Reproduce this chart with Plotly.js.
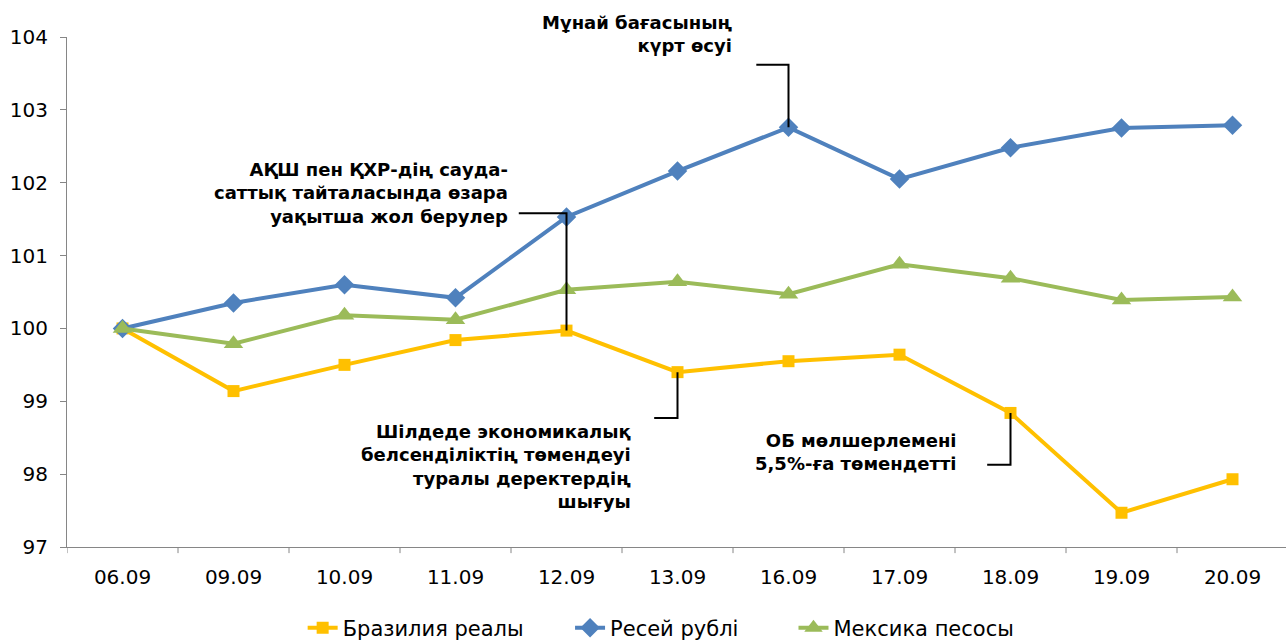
<!DOCTYPE html>
<html>
<head>
<meta charset="utf-8">
<script src="https://cdn.plot.ly/plotly-3.0.1.min.js"></script>
<style>html,body{margin:0;padding:0;overflow:hidden;background:#fff}#chart{width:1290px;height:641px}</style>
</head>
<body>
<div id="chart"></div>
<script>
const categories = ["06.09","09.09","10.09","11.09","12.09","13.09","16.09","17.09","18.09","19.09","20.09"];
const brazil = [100, 99.14, 99.50, 99.84, 99.97, 99.40, 99.55, 99.64, 98.84, 97.47, 97.93];
const russia = [100, 100.35, 100.60, 100.42, 101.53, 102.16, 102.76, 102.05, 102.48, 102.75, 102.79];
const mexico = [100, 99.79, 100.18, 100.12, 100.53, 100.64, 100.47, 100.88, 100.69, 100.39, 100.43];
const seriesNames = ["Бразилия реалы", "Ресей рублі", "Мексика песосы"];
const yTicks = [97, 98, 99, 100, 101, 102, 103, 104];
const notes = [
  "АҚШ пен ҚХР-дің сауда-<br>саттық тайталасында өзара<br>уақытша жол берулер",
  "Мұнай бағасының<br>күрт өсуі",
  "Шілдеде экономикалық<br>белсенділіктің төмендеуі<br>туралы деректердің<br>шығуы",
  "ОБ мөлшерлемені<br>5,5%-ға төмендетті"
];

const F = "'DejaVu Sans', Arial, sans-serif";
const idx = categories.map((c, i) => i);

const traces = [
  {x: idx, y: brazil, name: seriesNames[0], mode: "lines+markers", legend: "legend",
   line: {color: "#FFC000", width: 4}, marker: {symbol: "square", size: 12, color: "#FFC000"}},
  {x: idx, y: russia, name: seriesNames[1], mode: "lines+markers", legend: "legend2",
   line: {color: "#4F81BD", width: 4}, marker: {symbol: "diamond", size: 15, color: "#4F81BD"}},
  {x: idx, y: mexico, name: seriesNames[2], mode: "lines+markers", legend: "legend3",
   line: {color: "#9BBB59", width: 4}, marker: {symbol: "triangle-up", size: 17, color: "#9BBB59"}}
];
traces.forEach(t => t.cliponaxis = false);

function elbow(xi, y0, y1, xh) {
  return {type: "path", xref: "x", yref: "y",
    path: `M ${xi} ${y0} L ${xi} ${y1} L ${xh} ${y1}`,
    line: {color: "#000", width: 2}};
}
function leg(x) {
  return {orientation: "h", x: x, xanchor: "left", yref: "container", y: 0.02, yanchor: "middle",
    font: {family: F, size: 21, color: "#000"}, bgcolor: "rgba(0,0,0,0)"};
}

const layout = {
  width: 1290, height: 641,
  margin: {l: 67, r: 2, t: 37, b: 94},
  paper_bgcolor: "#fff", plot_bgcolor: "#fff",
  showlegend: true,
  legend: leg(0.193), legend2: leg(0.412), legend3: leg(0.595),
  xaxis: {range: [-0.5, 10.5], tickmode: "array", tickvals: idx, ticktext: categories,
    showgrid: false, zeroline: false, showline: true, linecolor: "#868686", linewidth: 1,
    ticks: "", ticklabelstandoff: 12, automargin: false,
    tickfont: {family: F, size: 20, color: "#000"}, fixedrange: true},
  yaxis: {range: [97, 104], tickmode: "array", tickvals: yTicks, showgrid: false, zeroline: false,
    showline: true, linecolor: "#868686", linewidth: 1, ticks: "outside", ticklen: 6,
    ticklabelstandoff: 8, automargin: false,
    tickcolor: "#868686", tickfont: {family: F, size: 20, color: "#000"}, fixedrange: true},
  shapes: [
    elbow(4, brazil[4], 101.58, 3.57),
    elbow(6, russia[6], 103.62, 5.71),
    elbow(5, brazil[5], 98.77, 4.79),
    elbow(8, brazil[8], 98.13, 7.79)
  ].concat(idx.concat([idx.length]).map(i => ({type: "line", xref: "x", yref: "paper",
    x0: i - 0.5, x1: i - 0.5, y0: 0, y1: -0.012, line: {color: "#868686", width: 1}}))),
  annotations: [
    {x: 3.49, xref: "x", y: 101.86, yref: "y", text: notes[0]},
    {x: 5.51, xref: "x", y: 1.005, yref: "paper", text: notes[1]},
    {x: 4.60, xref: "x", y: 98.11, yref: "y", text: notes[2]},
    {x: 7.54, xref: "x", y: 98.30, yref: "y", text: notes[3]}
  ].map(a => Object.assign(a, {xanchor: "right", yanchor: "middle", align: "right", showarrow: false,
    font: {family: F, size: 18, color: "#000", weight: "bold"}}))
};

Plotly.newPlot("chart", traces, layout, {displayModeBar: false, staticPlot: true});
</script>
</body>
</html>
